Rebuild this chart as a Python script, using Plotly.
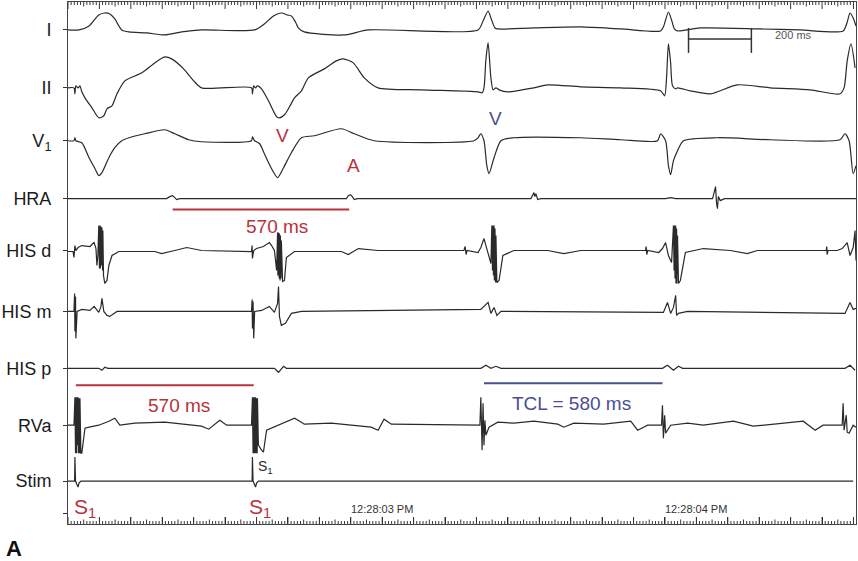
import plotly.graph_objects as go

# ---------------- data (time in ms, amplitude in arbitrary units, up = positive) ----------------
channel_labels = ["I", "II", "V<sub>1</sub>", "HRA", "HIS d", "HIS m", "HIS p", "RVa", "Stim"]
time_tick_vals = [1000, 2000]
time_tick_text = ["12:28:03 PM", "12:28:04 PM"]

I_t = [0, 35, 67, 98, 117, 133, 149, 162, 171, 194, 251, 308, 362, 425, 594, 625, 654, 679, 698, 711,
       724, 733, 752, 879, 956, 1305, 1321, 1337, 1346, 1359, 1368, 1483, 1632, 1759, 1886, 1895, 1911,
       1921, 1930, 1940, 2013, 2203, 2330, 2467, 2480, 2489, 2499, 2508]
I_v = [0, 0, 4, 15, 17, 16, 11, 4, 0, -2, -3, -5, -2, 0, 0, 6, 14, 17, 15, 14,
       8, 2, -2, -5, 0, 0, 9, 19, 12, 2, 1, 2, 3, 1, -1, 3, 18,
       10, 1, -1, 2, 1, 0, -1, 8, 17, 12, 4]

II_t = [0, 19, 22, 25, 32, 38, 44, 54, 76, 98, 114, 124, 140, 156, 181, 235, 276, 308, 330, 368,
        400, 425, 584, 587, 591, 597, 603, 616, 638, 664, 673, 689, 705, 721, 743, 765, 816, 854, 876, 908,
        943, 987, 1124, 1305, 1318, 1324, 1330, 1337, 1346, 1353, 1362, 1372, 1400, 1483, 1527, 1632, 1759,
        1886, 1899, 1905, 1911, 1918, 1924, 1934, 1940, 1981, 2045, 2130, 2235, 2362, 2457, 2470, 2480,
        2492, 2505]
II_v = [0, 0, -6, 2, 0, 2, -4, -10, -20, -30, -28, -21, -18, -6, 7, 15, 25, 31, 29, 19,
        7, 0, 0, -6, 2, 0, 2, -1, -13, -29, -30, -27, -19, -10, -3, 10, 19, 27, 29, 25,
        10, 0, -2, -4, -5, 0, 28, 45, 10, -2, 0, -2, -4, 0, 3, 1, 0,
        -3, -8, 10, 44, 25, 2, -1, 0, -3, -6, 3, 0, -2, -6, 0, 27,
        44, 20]

V1_t = [0, 19, 22, 25, 44, 67, 86, 98, 108, 130, 149, 171, 194, 244, 308, 340, 384, 425, 584, 587,
        594, 610, 625, 648, 667, 686, 711, 743, 784, 870, 911, 975, 1292, 1305, 1314, 1324, 1333, 1340,
        1356, 1378, 1419, 1632, 1759, 1876, 1886, 1902, 1911, 1918, 1927, 1940, 1959, 2067, 2235, 2457,
        2473, 2486, 2499, 2508]
V1_v = [0, 0, 3, 0, -2, -17, -28, -35, -32, -17, -7, 0, 3, 7, 11, 7, 1, -1, 0, 4,
        0, -3, -13, -28, -37, -27, -12, 3, 5, 12, 7, 0, 0, 3, 7, 0, -25, -33,
        -17, 0, 3, 3, 1, 0, 7, 0, -25, -34, -20, -10, 0, 3, 1, 1,
        7, 0, -33, -25]

HRA_t = [0, 314, 324, 333, 340, 346, 356, 886, 892, 899, 905, 911, 921, 1473, 1480, 1483, 1486, 1489,
         1495, 1505, 1902, 1918, 1934, 2051, 2054, 2061, 2064, 2067, 2070, 2076, 2089, 2508]
HRA_v = [0, 0, 2, 3, 1, -1, 0, 0, 3, 4, 2, -1, 0, 0, 4, 6, 2, 5,
         -1, 0, 0, 1, 0, 0, 3, 12, -4, -10, 2, -2, 0, 0]

HISd_t = [0, 16, 19, 22, 25, 32, 44, 70, 79, 83, 89, 92, 95, 98, 100, 102, 103, 105, 106, 108,
          110, 111, 113, 114, 117, 124, 130, 140, 162, 276, 298, 340, 378, 425, 584, 586, 587, 591,
          600, 622, 641, 648, 657, 664, 667, 668, 670, 672, 673, 675, 676, 678, 679, 683, 689, 695,
          721, 870, 892, 924, 987, 1260, 1264, 1267, 1270, 1305, 1314, 1324, 1333, 1340, 1346, 1349,
          1351, 1353, 1354, 1356, 1357, 1359, 1361, 1362, 1365, 1372, 1384, 1419, 1527, 1578, 1632,
          1838, 1840, 1842, 1845, 1880, 1892, 1902, 1911, 1921, 1927, 1929, 1930, 1932, 1934, 1935,
          1937, 1938, 1940, 1943, 1949, 1965, 2022, 2108, 2162, 2194, 2413, 2415, 2416, 2419, 2448,
          2464, 2480, 2489, 2499, 2505, 2508]
HISd_v = [-1, -1, -7, 5, 0, 3, 5, 4, 7, 8, 2, -15, -5, 25, -18, 25, -18, 24, -15, 23,
          -20, 20, -25, -30, -33, -30, -15, -5, -1, -1, -3, 0, 3, 0, -1, 5, -8, 0,
          2, 4, 8, 5, 0, -20, 18, -25, 18, -28, 17, -30, 15, -28, 10, -31, -30, -7,
          -1, -1, -4, 2, 0, 0, 4, -4, 0, -2, 3, 12, 2, -5, -13, 25,
          -20, 25, -25, 25, -30, 22, -32, 15, -32, -30, -5, 0, 0, -3, 0,
          0, 4, -4, 0, -2, 2, 8, -5, -12, 25, -20, 25, -28, 25, -33,
          22, -33, 15, -33, -30, -2, 2, 0, -3, 0, 0, 4, -4, 0, 0,
          2, 8, -5, 3, 20, -10]

HISm_t = [0, 19, 21, 22, 24, 25, 29, 44, 70, 83, 98, 105, 108, 114, 124, 133, 156, 584, 586, 587,
          589, 591, 594, 616, 641, 657, 667, 670, 673, 679, 692, 711, 743, 1314, 1337, 1346, 1356,
          1365, 1378, 1895, 1908, 1918, 1927, 1934, 1937, 1943, 1972, 2473, 2489, 2499, 2508]
HISm_v = [0, 0, 18, -20, 15, -27, 0, 2, 1, 5, -1, 5, 13, 0, -4, -5, 0, 0, 12, -17,
          10, -27, 0, 1, 5, -1, 8, 25, -5, -14, -12, -2, 0, 2, 9, -2, 4,
          -4, 0, -1, 9, -2, 4, 16, -4, -2, 0, -2, 9, 2, 3]

HISp_t = [0, 98, 108, 117, 127, 657, 670, 686, 695, 1314, 1330, 1346, 1362, 1378, 1892, 1908, 1927,
          1943, 1956, 2473, 2489, 2505]
HISp_v = [0, 0, -2, 1, 0, 0, -4, 2, 0, 0, 3, 0, 2, 0, 0, 3, -2,
          2, 0, 0, 3, -2]

RVa_t = [0, 19, 22, 24, 25, 27, 29, 30, 32, 33, 35, 37, 38, 41, 44, 54, 67, 98, 130, 149,
         165, 213, 308, 425, 448, 483, 505, 584, 587, 589, 591, 592, 594, 595, 597, 599, 600, 602,
         603, 606, 616, 622, 632, 670, 721, 743, 752, 838, 965, 987, 1006, 1029, 1305, 1311, 1314,
         1318, 1321, 1324, 1327, 1330, 1340, 1368, 1419, 1483, 1559, 1578, 1610, 1705, 1791, 1813,
         1845, 1889, 1892, 1895, 1899, 1902, 1918, 1972, 2022, 2118, 2181, 2340, 2378, 2403, 2464,
         2467, 2470, 2477, 2480, 2486, 2499, 2508]
RVa_v = [0, 0, 28, -28, 28, -28, 28, -20, 28, -28, 27, -28, 27, -28, -28, -3, -2, 0, 4, 7,
         0, 2, 3, -1, -4, 5, 0, 0, 28, -28, 28, -28, 28, -28, 28, -28, 27, -28,
         27, -20, -25, -27, -5, 0, 7, 3, 1, 2, -2, -5, 6, 1, 0, 0, 28,
         -25, 22, -20, 5, -10, -2, 3, 2, 4, 1, -2, 2, 1, 4, -5,
         0, 0, 20, -13, 10, -8, 0, 2, 0, 4, -1, 4, -5, 0, 0,
         22, -5, 10, -7, -8, 0, -2]

Stim_t = [0, 21, 22, 24, 29, 32, 35, 41, 586, 587, 589, 594, 597, 600, 606, 2499]
Stim_v = [0, 0, 24, 0, -4, -6, -2, 0, 0, 24, 0, -4, -6, -2, 0, 0]

# ---------------- layout constants ----------------
baselines = [29, 87, 140, 198, 250, 311, 368, 425, 481]
series = [(I_t, I_v, True), (II_t, II_v, True), (V1_t, V1_v, True), (HRA_t, HRA_v, False),
          (HISd_t, HISd_v, False), (HISm_t, HISm_v, False), (HISp_t, HISp_v, False),
          (RVa_t, RVa_v, False), (Stim_t, Stim_v, False)]

RED = "#b8323c"
BLUE = "#4a4e94"
INK = "#2a2a2a"
FONT = "Liberation Sans, Arial, sans-serif"
XR = [0, 2508]
YR = [524, 1]
MAJOR_MS, MID_MS, MINOR_MS = 100, 50, 10

fig = go.Figure()
for (t, v, smooth), base in zip(series, baselines):
    fig.add_trace(go.Scatter(
        x=t, y=[base - a for a in v], mode="lines",
        line=dict(color=INK, width=1.2, shape="spline" if smooth else "linear",
                  smoothing=0.7 if smooth else None),
        hoverinfo="skip", showlegend=False))

fig.update_layout(
    width=858, height=561,
    margin=dict(l=66, r=2, t=1, b=37),
    paper_bgcolor="white", plot_bgcolor="white",
    font=dict(family=FONT, color=INK),
    xaxis=dict(range=XR, showgrid=False, zeroline=False,
               showline=True, linecolor="#444", linewidth=1, mirror=True,
               tickmode="linear", tick0=0, dtick=MAJOR_MS,
               ticks="inside", ticklen=7, tickcolor="#222", tickwidth=1.2,
               showticklabels=False),
    yaxis=dict(range=YR, showgrid=False, zeroline=False,
               showline=True, linecolor="#444", linewidth=1, mirror=True,
               tickmode="array", tickvals=baselines + [513],
               ticktext=channel_labels + [""],
               ticks="outside", ticklen=4, tickcolor="#333", tickwidth=1.2,
               tickfont=dict(size=18, color="#1a1a1a"), ticklabelstandoff=8),
)

# dense time-ruler ticks along top and bottom edges (every 10 ms, longer at 50/100 ms)
path = []
for ms in range(XR[0], XR[1] + 1, MINOR_MS):
    ln = 7 if ms % MAJOR_MS == 0 else (4.5 if ms % MID_MS == 0 else 3)
    path.append("M%d,%g L%d,%g" % (ms, YR[0], ms, YR[0] - ln))
    path.append("M%d,%g L%d,%g" % (ms, YR[1], ms, YR[1] + ln))
fig.add_shape(type="path", path=" ".join(path), xref="x", yref="y",
              line=dict(color="#3a3a3a", width=1))

# interval bars and scale bar
fig.add_shape(type="line", x0=333, x1=895, y0=209, y1=209, line=dict(color=RED, width=2))
fig.add_shape(type="line", x0=25, x1=591, y0=385, y1=385, line=dict(color=RED, width=2))
fig.add_shape(type="line", x0=1324, x1=1892, y0=383, y1=383, line=dict(color=BLUE, width=2))
fig.add_shape(type="line", x0=1975, x1=2175, y0=38, y1=38, line=dict(color="#333", width=1.5))
fig.add_shape(type="line", x0=1975, x1=1975, y0=27, y1=52, line=dict(color="#333", width=1.5))
fig.add_shape(type="line", x0=2175, x1=2175, y0=27, y1=52, line=dict(color="#333", width=1.5))

def note(x, y, text, color, size, xanchor="center", bold=False):
    fig.add_annotation(x=x, y=y, text=("<b>%s</b>" % text) if bold else text,
                       showarrow=False, xanchor=xanchor, yanchor="middle",
                       font=dict(family=FONT, size=size, color=color))

# clock-time labels sitting just above the bottom tick band
for tv, tt in zip(time_tick_vals, time_tick_text):
    note(tv, 509, tt, "#333", 11)

note(683, 135, "V", RED, 19)
note(908, 165, "A", RED, 19)
note(1362, 118, "V", BLUE, 19)
note(665, 226, "570 ms", RED, 19)
note(352, 405, "570 ms", RED, 19)
note(1603, 403, "TCL = 580 ms", BLUE, 19)
note(2245, 34, "200 ms", "#555", 11, xanchor="left")
note(14, 508, "S<sub>1</sub>", RED, 21, xanchor="left")
note(570, 508, "S<sub>1</sub>", RED, 21, xanchor="left")
note(598, 467, "S<sub>1</sub>", INK, 14, xanchor="left")

fig.add_annotation(xref="paper", yref="paper", x=-0.0684, y=-0.0478, text="<b>A</b>",
                   showarrow=False, xanchor="center", yanchor="middle",
                   font=dict(family=FONT, size=22, color="#111"))

fig.write_html("out.html")
